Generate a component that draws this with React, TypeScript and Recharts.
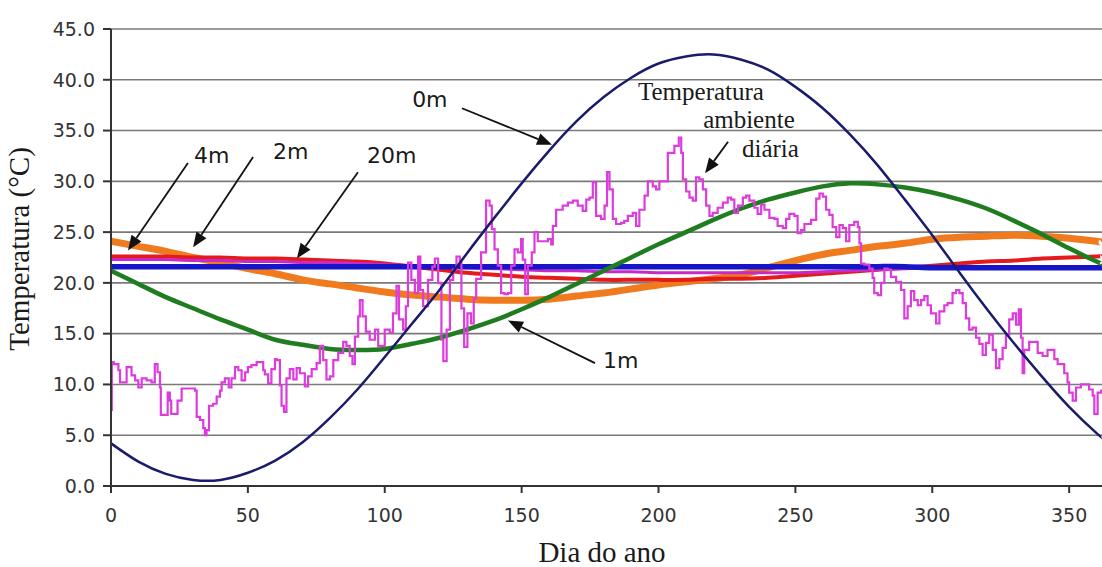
import React from 'react';
import { LineChart, Line, XAxis, YAxis, CartesianGrid, ReferenceLine, ReferenceDot } from 'recharts';

// Day grid for the smooth soil-depth curves
const curveDays = [0, 10, 20, 30, 40, 50, 60, 70, 80, 90, 100, 110, 120, 130, 140, 150, 160, 170, 180, 190, 200, 210, 220, 230, 240, 250, 260, 270, 280, 290, 300, 310, 320, 330, 340, 350, 360, 362];

const temp0m = [4.2, 2.4, 1.2, 0.6, 0.6, 1.3, 2.5, 4.3, 6.7, 9.5, 12.7, 16.0, 19.3, 22.9, 26.4, 29.8, 33.0, 35.9, 38.3, 40.2, 41.6, 42.3, 42.5, 42.0, 41.0, 39.3, 37.2, 34.6, 31.6, 28.2, 24.7, 21.0, 17.4, 14.0, 10.8, 7.8, 5.2, 4.8];
const temp1m = [21.2, 19.9, 18.6, 17.5, 16.4, 15.4, 14.4, 13.9, 13.5, 13.4, 13.5, 14.0, 14.6, 15.4, 16.3, 17.4, 18.6, 19.9, 21.2, 22.5, 23.8, 25.0, 26.2, 27.3, 28.2, 28.9, 29.5, 29.8, 29.7, 29.4, 28.9, 28.2, 27.3, 26.1, 24.8, 23.4, 22.1, 21.9];
const tempOrange = [24.1, 23.6, 23.1, 22.5, 22.0, 21.4, 20.9, 20.3, 19.9, 19.5, 19.1, 18.8, 18.6, 18.4, 18.3, 18.3, 18.4, 18.7, 19.0, 19.4, 19.8, 20.1, 20.4, 20.8, 21.5, 22.2, 22.8, 23.2, 23.6, 23.9, 24.3, 24.5, 24.6, 24.7, 24.6, 24.4, 24.1, 24.0];
const tempRed = [22.6, 22.6, 22.6, 22.5, 22.5, 22.4, 22.4, 22.3, 22.2, 22.1, 21.9, 21.6, 21.3, 21.0, 20.8, 20.6, 20.5, 20.4, 20.3, 20.3, 20.3, 20.3, 20.4, 20.4, 20.5, 20.7, 20.9, 21.1, 21.3, 21.5, 21.7, 21.9, 22.1, 22.2, 22.4, 22.5, 22.6, 22.6];
const tempPurple = [22.3, 22.3, 22.3, 22.2, 22.2, 22.1, 22.1, 22.0, 22.0, 21.9, 21.8, 21.7, 21.6, 21.5, 21.4, 21.3, 21.2, 21.2, 21.1, 21.1, 21.0, 21.0, 21.0, 21.0, 21.0, 21.0, 21.1, 21.2, 21.3, 21.4, 21.5, 21.5, 21.6, 21.6, 21.6, 21.6, 21.6, 21.6];
const tempBlue = [21.6, 21.6, 21.6, 21.6, 21.6, 21.6, 21.6, 21.6, 21.6, 21.6, 21.6, 21.6, 21.6, 21.6, 21.6, 21.6, 21.6, 21.6, 21.6, 21.6, 21.6, 21.6, 21.6, 21.6, 21.6, 21.6, 21.6, 21.6, 21.6, 21.6, 21.5, 21.5, 21.5, 21.5, 21.5, 21.5, 21.5, 21.5];

// Daily ambient temperature
const ambientDays = [0, 0.3, 1, 2.7, 3.3, 4.5, 5.7, 7, 7.5, 8.8, 10, 11.2, 13, 14.8, 16, 17, 17.9, 18.2, 19.7, 20.7, 21.5, 22, 23.6, 24.3, 25.8, 29.4, 30.7, 31.3, 32.5, 33.7, 34.3, 34.9, 35.8, 37.3, 38.6, 39.8, 40.4, 41.6, 43, 44, 45.3, 46.5, 47.7, 49, 50, 51.3, 53.2, 54.4, 55.6, 56.2, 57.4, 58.6, 59.9, 60.5, 61.7, 62.3, 63.2, 64.1, 65.3, 66.6, 67.8, 69, 70.8, 72, 73.3, 75.1, 76.3, 77.5, 78.7, 80, 81.2, 83, 84.8, 86, 87.2, 88.2, 89.1, 90.3, 90.9, 91.9, 93.1, 94.5, 96.4, 97.6, 98.8, 100, 101.8, 103, 104.3, 105.2, 106.7, 107.7, 108.5, 109.7, 111, 112.2, 113, 114, 115.8, 117.4, 118.3, 119.5, 120.7, 121.4, 122.6, 123.8, 125, 126.2, 127.4, 128, 129, 130.2, 131.5, 132.5, 133.4, 135.2, 137, 138.3, 139.1, 140.1, 141.3, 142.5, 143.7, 145, 146.2, 147.4, 148.6, 149.8, 150.4, 151.3, 152.3, 153.7, 154.7, 155.9, 157.7, 159.6, 160.8, 161.4, 162.6, 163.8, 165, 166.9, 168.7, 170.5, 172.3, 173.6, 174.8, 176, 177.2, 179, 180.3, 181.2, 182.1, 183.3, 184.5, 186.3, 187.5, 188.8, 190.6, 191.8, 193, 194.9, 196.1, 197.9, 199.1, 200.3, 202.8, 203.4, 204.6, 205.8, 207.4, 208.3, 208.9, 210.1, 211.3, 212.5, 213.7, 214.9, 216.2, 217.4, 218.6, 219.8, 221.6, 223.5, 225.3, 226.5, 227.7, 229, 230.8, 232, 233.2, 235, 236.2, 237.5, 238.7, 240.5, 242.3, 243.5, 245.4, 246.6, 247.8, 249.6, 250.8, 252.1, 253.3, 255.7, 257.6, 258.8, 260, 261.2, 262.4, 263.6, 264.9, 266.1, 267.3, 268.5, 269.7, 271.5, 272.8, 273.4, 274, 275.2, 277, 278.2, 278.8, 280.1, 281.3, 282.5, 283.7, 284.9, 286.8, 288.6, 289.8, 291, 292.2, 293.4, 294.7, 295.9, 297.1, 298.3, 299.5, 301.4, 302.6, 304.4, 305.6, 307.4, 308.7, 309.9, 311.1, 312.3, 313.5, 314.7, 316, 317.2, 318.4, 319.6, 320.8, 322.1, 323.3, 324.5, 325.7, 326.9, 328.1, 329.4, 330.6, 331.6, 332.4, 333, 333.6, 335.4, 337.3, 338.5, 340.3, 342.1, 343.4, 344.6, 345.8, 347, 348.2, 349.4, 350, 351.3, 352.5, 354.3, 356.1, 357.3, 358.6, 359.2, 360.4, 361.7];
const ambientTemps = [7.5, 12.2, 12.0, 11.4, 10.2, 10.2, 11.7, 11.7, 10.9, 10.4, 9.7, 10.6, 10.4, 10.2, 12.0, 11.2, 9.7, 7.0, 7.0, 9.2, 8.4, 7.1, 7.1, 8.4, 9.6, 9.6, 9.4, 6.8, 6.5, 5.7, 5.0, 5.5, 7.9, 8.1, 8.8, 9.4, 10.2, 10.6, 9.7, 10.6, 11.7, 11.4, 10.4, 11.2, 11.7, 11.9, 12.2, 12.2, 11.4, 11.0, 10.1, 11.5, 12.5, 12.4, 9.9, 7.9, 7.3, 10.6, 11.5, 10.5, 11.6, 11.1, 9.8, 10.8, 11.5, 12.1, 13.8, 12.4, 10.5, 10.8, 12.4, 13.1, 14.2, 13.8, 12.8, 12.0, 14.7, 16.7, 18.3, 16.7, 15.2, 14.4, 15.4, 13.8, 13.8, 15.4, 15.1, 17.0, 19.7, 16.4, 15.4, 17.7, 22.0, 20.3, 19.0, 22.6, 19.3, 17.7, 20.3, 21.6, 22.4, 20.0, 14.4, 12.3, 15.4, 20.3, 21.3, 22.6, 22.0, 17.5, 13.7, 17.0, 16.0, 18.5, 20.4, 23.0, 28.1, 27.6, 25.3, 23.3, 21.7, 19.0, 18.9, 19.0, 21.7, 23.3, 23.0, 24.3, 22.3, 18.9, 21.7, 23.0, 25.0, 24.1, 24.1, 24.3, 23.8, 25.6, 27.2, 27.2, 27.6, 27.9, 28.1, 27.6, 27.1, 28.2, 28.4, 29.9, 26.6, 26.3, 27.6, 30.9, 29.2, 26.3, 25.8, 25.9, 26.1, 26.6, 26.9, 25.6, 27.2, 28.6, 30.0, 29.5, 29.2, 30.0, 30.0, 32.8, 32.8, 33.5, 34.3, 32.8, 30.2, 29.0, 28.4, 28.1, 30.4, 30.2, 29.2, 27.6, 26.6, 26.9, 27.4, 27.9, 28.4, 28.2, 26.9, 27.6, 28.4, 28.6, 28.1, 27.4, 26.8, 27.7, 27.2, 26.4, 26.3, 25.6, 25.4, 26.3, 26.8, 26.6, 24.9, 25.2, 25.8, 26.2, 28.3, 28.8, 28.5, 27.2, 26.7, 25.5, 24.5, 25.7, 25.4, 24.1, 25.7, 26.0, 25.5, 23.9, 21.9, 21.8, 21.4, 20.5, 19.0, 18.8, 20.0, 21.4, 21.3, 20.6, 20.1, 19.3, 16.5, 17.7, 19.2, 18.3, 17.8, 18.3, 18.7, 17.8, 17.0, 16.0, 17.2, 17.8, 18.0, 19.0, 19.3, 19.0, 18.0, 16.5, 15.4, 15.6, 14.6, 14.0, 12.9, 14.1, 14.9, 13.4, 11.6, 12.5, 13.6, 14.9, 16.4, 17.0, 15.9, 17.4, 14.6, 11.1, 13.4, 14.2, 14.2, 13.1, 12.8, 13.4, 13.4, 12.5, 12.0, 12.0, 11.1, 10.2, 9.2, 8.4, 9.7, 10.0, 10.0, 9.5, 8.9, 7.1, 9.2, 9.5];

const xTicks = [0, 50, 100, 150, 200, 250, 300, 350];
const yTicks = [0, 5, 10, 15, 20, 25, 30, 35, 40, 45];

// Annotations (data coordinates)
const sansLabels = [
  { text: '0m', day: 110.0, temp: 37.3 },
  { text: '4m', day: 30.3, temp: 31.8 },
  { text: '2m', day: 59.2, temp: 32.2 },
  { text: '20m', day: 93.5, temp: 31.8 },
  { text: '1m', day: 179.7, temp: 11.6 },
];
const serifLabels = [
  { text: 'Temperatura', day: 192.5, temp: 38.0 },
  { text: 'ambiente', day: 216.3, temp: 35.3 },
  { text: 'diária', day: 230.5, temp: 32.4 },
];
const arrows = [
  { from: [128.2, 37.2], to: [161.1, 33.6] },
  { from: [225.4, 33.9], to: [217.0, 30.8] },
  { from: [28.1, 31.8], to: [6.2, 23.2] },
  { from: [51.9, 32.4], to: [30.0, 23.5] },
  { from: [90.2, 30.9], to: [67.9, 22.4] },
  { from: [176.8, 12.1], to: [145.0, 16.3] },
];

const toSeries = (values: number[]) => curveDays.map((d, i) => ({ day: d, v: values[i] }));
const ambientData = ambientDays.map((d, i) => ({ day: d, v: ambientTemps[i] }));

const ArrowShape = (props: any) => {
  const { x1, y1, x2, y2 } = props;
  const dx = x2 - x1;
  const dy = y2 - y1;
  const len = Math.hypot(dx, dy) || 1;
  const ux = dx / len;
  const uy = dy / len;
  const hl = 15;
  const hw = 6;
  const bx = x2 - ux * hl;
  const by = y2 - uy * hl;
  const pts = `${x2},${y2} ${bx - uy * hw},${by + ux * hw} ${bx + uy * hw},${by - ux * hw}`;
  return (
    <g>
      <line x1={x1} y1={y1} x2={bx} y2={by} stroke="#111" strokeWidth={1.8} />
      <polygon points={pts} fill="#111" />
    </g>
  );
};

const makeText = (text: string, family: string, size: number) => (p: any) => (
  <text x={p.cx} y={p.cy} fontFamily={family} fontSize={size} fill="#1a1a1a">
    {text}
  </text>
);

const tickStyle = { fontFamily: 'DejaVu Sans', fontSize: 19, fill: '#333' };

export default function App() {
  return (
    <div style={{ position: 'absolute', left: 0, top: 0, background: '#fff' }}>
      <LineChart width={1102} height={567} margin={{ top: 29, right: 0, bottom: 0, left: 0 }}>
        <CartesianGrid vertical={false} stroke="#7a7a7a" strokeWidth={1.6} />
        <XAxis
          type="number"
          dataKey="day"
          domain={[0, 362]}
          ticks={xTicks}
          allowDataOverflow
          height={81}
          tickSize={7}
          tickMargin={16}
          tick={tickStyle}
          stroke="#333"
          strokeWidth={2}
          label={{
            content: () => (
              <text x={602} y={562} textAnchor="middle" fontFamily="Liberation Serif" fontSize={29} fill="#1a1a1a">
                Dia do ano
              </text>
            ),
          }}
        />
        <YAxis
          type="number"
          domain={[0, 45]}
          ticks={yTicks}
          width={111}
          tickSize={8}
          tickMargin={8}
          tick={tickStyle}
          tickFormatter={(v: number) => v.toFixed(1)}
          stroke="#333"
          strokeWidth={2}
          label={{
            content: () => (
              <text
                x={29}
                y={249}
                transform="rotate(-90, 29, 249)"
                textAnchor="middle"
                fontFamily="Liberation Serif"
                fontSize={29}
                fill="#1a1a1a"
              >
                Temperatura (°C)
              </text>
            ),
          }}
        />
        <Line data={toSeries(tempOrange)} dataKey="v" type="natural" stroke="#f07a1e" strokeWidth={7} dot={false} isAnimationActive={false} />
        <Line data={toSeries(tempRed)} dataKey="v" type="natural" stroke="#e41b1b" strokeWidth={4} dot={false} isAnimationActive={false} />
        <Line data={toSeries(tempPurple)} dataKey="v" type="natural" stroke="#c82ac8" strokeWidth={3} dot={false} isAnimationActive={false} />
        <Line data={toSeries(tempBlue)} dataKey="v" type="natural" stroke="#1616c8" strokeWidth={5.5} dot={false} isAnimationActive={false} />
        <Line data={toSeries(temp1m)} dataKey="v" type="natural" stroke="#1f7d1f" strokeWidth={4.5} dot={false} isAnimationActive={false} />
        <Line data={ambientData} dataKey="v" type="stepAfter" stroke="#dc3cdc" strokeWidth={2.2} dot={false} isAnimationActive={false} />
        <Line data={toSeries(temp0m)} dataKey="v" type="natural" stroke="#1b1b6b" strokeWidth={2.5} dot={false} isAnimationActive={false} />
        {arrows.map((a, i) => (
          <ReferenceLine
            key={`arr${i}`}
            segment={[{ x: a.from[0], y: a.from[1] }, { x: a.to[0], y: a.to[1] }]}
            shape={ArrowShape}
          />
        ))}
        {sansLabels.map((l, i) => (
          <ReferenceDot key={`sl${i}`} x={l.day} y={l.temp} r={1} shape={makeText(l.text, 'DejaVu Sans', 22)} />
        ))}
        {serifLabels.map((l, i) => (
          <ReferenceDot key={`sr${i}`} x={l.day} y={l.temp} r={1} shape={makeText(l.text, 'Liberation Serif', 25)} />
        ))}
      </LineChart>
    </div>
  );
}
